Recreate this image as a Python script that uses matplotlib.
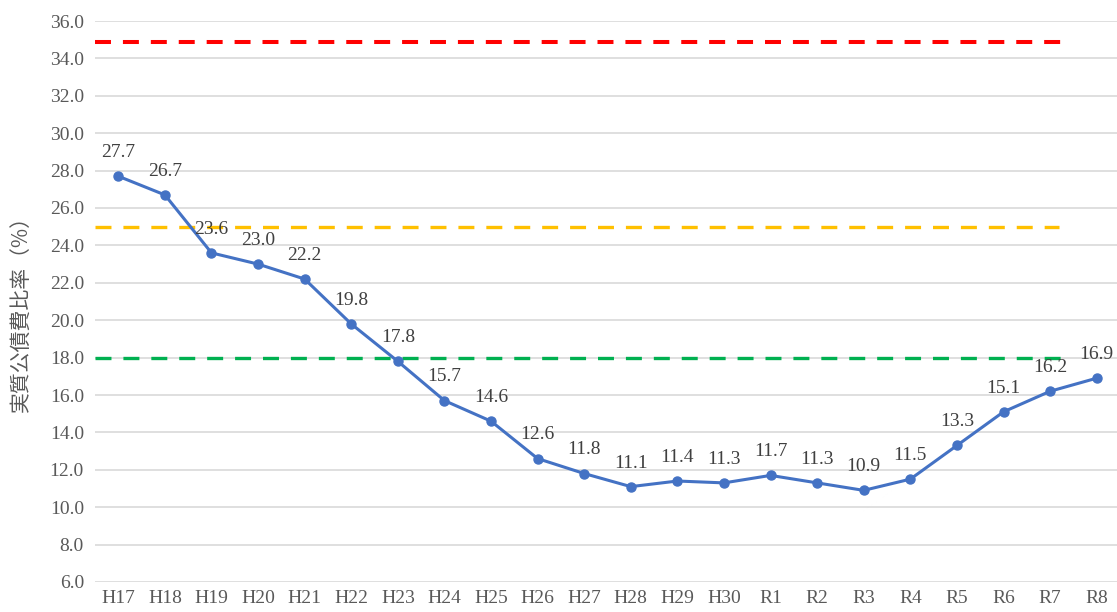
import matplotlib
matplotlib.use("Agg")
import matplotlib.pyplot as plt

# data
years = ["H17", "H18", "H19", "H20", "H21", "H22", "H23", "H24", "H25", "H26",
         "H27", "H28", "H29", "H30", "R1", "R2", "R3", "R4", "R5", "R6", "R7", "R8"]
ratio = [27.7, 26.7, 23.6, 23.0, 22.2, 19.8, 17.8, 15.7, 14.6, 12.6, 11.8,
         11.1, 11.4, 11.3, 11.7, 11.3, 10.9, 11.5, 13.3, 15.1, 16.2, 16.9]

# reference levels (value, colour, end position on the category axis)
ref_values = [34.9, 25.0, 18.0]
ref_colors = ["#FF0000", "#FFC000", "#00B050"]
ref_ends = [20.34, 20.19, 20.27]

plt.rcParams["lines.scale_dashes"] = False
num_font = ["Liberation Serif", "Noto Sans CJK JP"]
text_col = "#595959"

fig = plt.figure(figsize=(11.17, 6.12), dpi=100)
ax = fig.add_axes([95 / 1117, 30 / 612, 1025 / 1117, 561 / 612])

x = list(range(len(years)))

for v, c, e in zip(ref_values, ref_colors, ref_ends):
    ax.plot([-0.5, e], [v, v], color=c, linewidth=2.9 if c == "#FF0000" else 2.4,
            dashes=(11.5, 8.6), zorder=2, solid_capstyle="butt")

ax.plot(x, ratio, color="#4472C4", linewidth=2.2, marker="o", markersize=6.5,
        zorder=3)

for xi, v in zip(x, ratio):
    ax.annotate(f"{v:.1f}", (xi, v), xytext=(0, 17), textcoords="offset points",
                ha="center", va="center", fontsize=14, family=num_font,
                color="#404040", zorder=4)

ax.set_xlim(-0.5, len(years) - 0.5)
ax.set_ylim(6, 36)
ax.set_yticks([6 + 2 * i for i in range(16)])
ax.set_yticklabels([f"{6 + 2 * i:.1f}" for i in range(16)], family=num_font,
                   fontsize=14, color=text_col)
ax.set_xticks(x)
ax.set_xticklabels(years, family=num_font, fontsize=14, color=text_col)
ax.tick_params(length=0, pad=8)
ax.tick_params(axis="x", pad=6)

ax.grid(axis="y", color="#D9D9D9", linewidth=1.2, zorder=0)
ax.set_axisbelow(True)
for s in ax.spines.values():
    s.set_visible(False)

fig.text(22 / 1117, 1 - 309 / 612, "実質公債費比率（%）", rotation=90,
         ha="center", va="center", fontsize=15, color=text_col,
         family=["Noto Sans CJK JP", "DejaVu Sans"])

fig.savefig("out.png", dpi=100)
